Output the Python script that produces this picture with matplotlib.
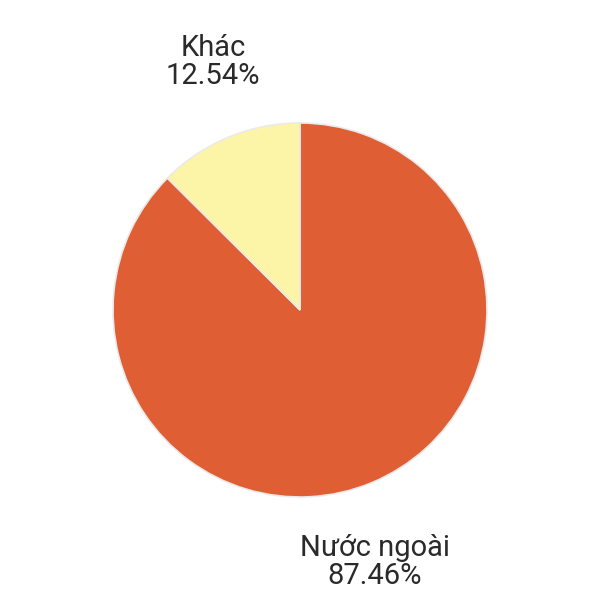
import matplotlib
matplotlib.use("Agg")
import matplotlib.pyplot as plt

categories = ["Nước ngoài", "Khác"]
values = [87.46, 12.54]
colors = ["#E05E33", "#FCF5A8"]

plt.rcParams['font.family'] = ['Roboto', 'DejaVu Sans']

fig = plt.figure(figsize=(6, 6), dpi=100)
ax = fig.add_axes([0, 0, 1, 1])

wedges, _ = ax.pie(values, colors=colors, startangle=90, counterclock=False,
                   center=(300, 290), radius=187,
                   wedgeprops=dict(edgecolor='#EAEAEA', linewidth=1.2))
ax.set_xlim(0, 600)
ax.set_ylim(0, 600)
ax.set_aspect('equal')
ax.axis('off')

label_pos = [(375, 562), (213, 62)]
for cat, v, (x, y) in zip(categories, values, label_pos):
    ax.text(x, 600 - y, f"{cat}\n{v:.2f}%", ha='center', va='center',
            fontsize=21, color='#2a2a2a', linespacing=1.0)

fig.savefig("out.png", dpi=100)
